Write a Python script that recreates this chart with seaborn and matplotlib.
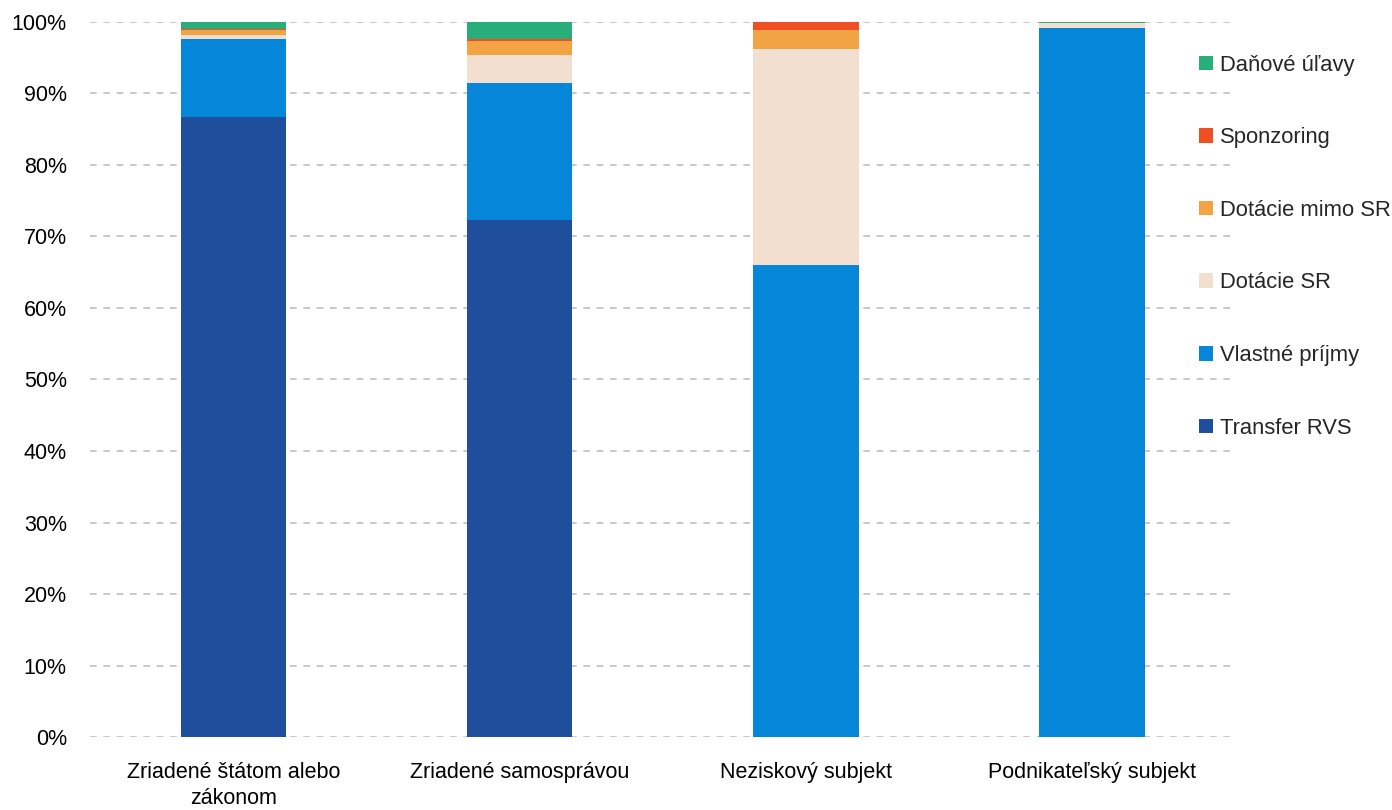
import pandas as pd
import numpy as np
import matplotlib.pyplot as plt
import seaborn as sns
from matplotlib.patches import Patch
from matplotlib.ticker import FuncFormatter

categories = ['Zriadené štátom alebo\nzákonom', 'Zriadené samosprávou',
              'Neziskový subjekt', 'Podnikateľský subjekt']

series_names = ['Transfer RVS', 'Vlastné príjmy', 'Dotácie SR',
                'Dotácie mimo SR', 'Sponzoring', 'Daňové úľavy']

transfer_rvs = [86.7, 72.3, 0.0, 0.0]
vlastne_prijmy = [10.9, 19.1, 66.0, 99.2]
dotacie_sr = [0.6, 4.0, 30.2, 0.6]
dotacie_mimo_sr = [0.6, 1.9, 2.7, 0.0]
sponzoring = [0.2, 0.3, 1.1, 0.0]
danove_ulavy = [1.0, 2.4, 0.0, 0.2]

colors = ['#1F4E9D', '#0586D9', '#F2DFCF', '#F2A444', '#F04E23', '#27AE7A']

values = [transfer_rvs, vlastne_prijmy, dotacie_sr, dotacie_mimo_sr,
          sponzoring, danove_ulavy]

sns.set_theme(style="white")
plt.rcParams['font.family'] = ['Liberation Sans', 'DejaVu Sans']

fig, ax = plt.subplots(figsize=(13.92, 8.10), dpi=100)
fig.subplots_adjust(left=0.065, right=0.887, top=0.973, bottom=0.09)

bottom = np.zeros(len(categories))
for name, vals, col in zip(series_names, values, colors):
    vals = np.array(vals) / 100.0
    df = pd.DataFrame({'cat': categories, 'val': vals})
    sns.barplot(data=df, x='cat', y='val', color=col, bottom=bottom,
                width=0.37, ax=ax, linewidth=0, saturation=1)
    bottom = bottom + vals

ax.set_xlim(-0.5, 3.5)
ax.set_ylim(0, 1.0)
ax.set_yticks(np.arange(0, 1.01, 0.1))
ax.yaxis.set_major_formatter(FuncFormatter(lambda y, _: '{:.0%}'.format(y)))
ax.set_xlabel('')
ax.set_ylabel('')
ax.tick_params(axis='both', labelsize=15.5, length=0, colors='#000000')
ax.tick_params(axis='y', pad=17)
ax.tick_params(axis='x', pad=18)
for lbl in ax.get_xticklabels():
    lbl.set_linespacing(1.3)
ax.yaxis.grid(True, linestyle=(0, (4, 4)), color='#BFBFBF', linewidth=1.2)
ax.set_axisbelow(True)
for s in ax.spines.values():
    s.set_visible(False)

handles = [Patch(facecolor=c, edgecolor='none') for c in colors]
leg = fig.legend(handles[::-1], series_names[::-1], loc='upper left',
                 bbox_to_anchor=(0.8535, 0.946), frameon=False, fontsize=15.8,
                 labelspacing=2.35, handlelength=0.65, handleheight=0.65,
                 handletextpad=0.3, borderpad=0)

plt.savefig('out.png', dpi=100)
